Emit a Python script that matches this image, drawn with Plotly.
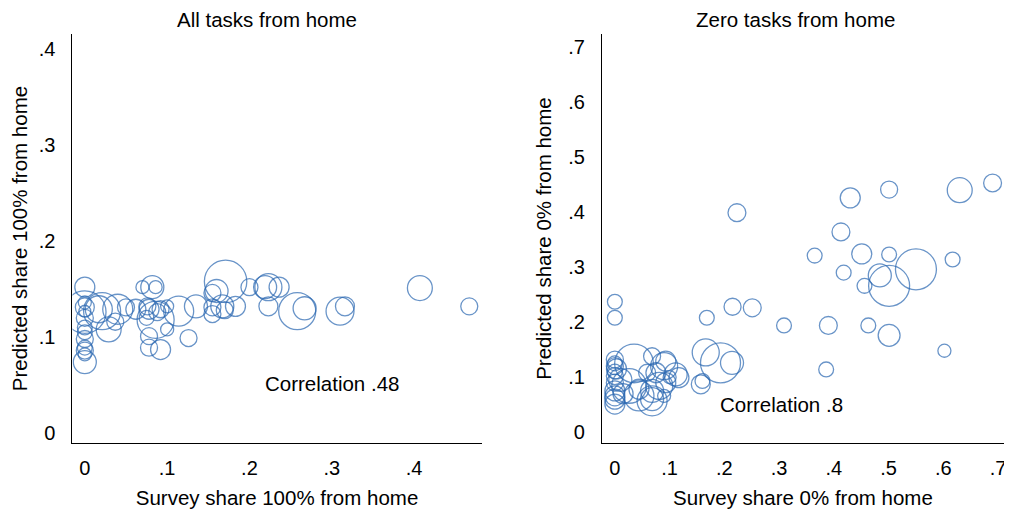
import plotly.graph_objects as go
from plotly.subplots import make_subplots

# All tasks from home: survey share 100% vs predicted share 100%, bubble weight
all_x = [0, 0, 0, 0, 0, 0, 0, 0, 0, 0, 0, 0,
         0.0, 0.021, 0.040, 0.029, 0.050, 0.062, 0.070, 0.082, 0.086, 0.086,
         0.078, 0.092, 0.100, 0.114, 0.100, 0.078, 0.078, 0.092, 0.126, 0.135,
         0.155, 0.160, 0.171, 0.155, 0.167, 0.183, 0.155, 0.170, 0.200, 0.223,
         0.219, 0.236, 0.223, 0.258, 0.267, 0.310, 0.316, 0.407, 0.467,
         0.017, 0.037, 0.075, 0.076, 0.088]
all_y = [0.152, 0.136, 0.131, 0.127, 0.120, 0.110, 0.105, 0.098, 0.089, 0.086, 0.082, 0.074,
         0.126, 0.127, 0.129, 0.108, 0.131, 0.129, 0.152, 0.152, 0.152, 0.118,
         0.129, 0.129, 0.132, 0.127, 0.108, 0.101, 0.089, 0.087, 0.099, 0.132,
         0.131, 0.148, 0.158, 0.146, 0.132, 0.132, 0.124, 0.128, 0.152, 0.152,
         0.152, 0.152, 0.132, 0.127, 0.130, 0.127, 0.132, 0.151, 0.132,
         0.129, 0.116, 0.120, 0.132, 0.126]
all_w = [4.0, 1.7, 3.6, 1.4, 2.9, 2.2, 2.2, 2.9, 2.2, 2.9, 1.7, 5.3,
         18.0, 13.7, 9.0, 6.2, 2.9, 4.0, 1.7, 5.3, 1.7, 13.7,
         4.0, 2.9, 1.7, 9.0, 1.7, 2.9, 2.9, 4.0, 2.9, 5.3,
         2.9, 5.3, 18.0, 2.9, 5.3, 4.0, 2.9, 2.9, 2.9, 7.3,
         5.3, 4.0, 3.6, 13.7, 5.3, 7.8, 3.6, 6.2, 2.9,
         7.3, 2.9, 2.2, 2.9, 2.9]

# Zero tasks from home: survey share 0% vs predicted share 0%
zero_x = [0.430, 0.501, 0.630, 0.690, 0.413, 0.365, 0.451, 0.501, 0.550, 0.617,
          0.418, 0.484, 0.501, 0.456, 0.309, 0.390, 0.463, 0.501, 0.602, 0.386,
          0.223, 0.0, 0.0, 0.168, 0.215, 0.251, 0.166, 0.193, 0.214, 0.157, 0.160,
          0, 0, 0.003, 0, 0, 0, 0, 0, 0, 0, 0,
          0.035, 0.026, 0.044, 0.068, 0.090, 0.081, 0.111, 0.068, 0.044, 0.059,
          0.075, 0.093, 0.117, 0.093, 0.068, 0.068, 0.090, 0.100, 0.010, 0.015]
zero_y = [0.426, 0.441, 0.440, 0.453, 0.364, 0.321, 0.324, 0.323, 0.296, 0.314,
          0.290, 0.285, 0.266, 0.266, 0.194, 0.194, 0.194, 0.176, 0.148, 0.114,
          0.399, 0.237, 0.208, 0.208, 0.228, 0.226, 0.145, 0.126, 0.126, 0.087, 0.093,
          0.132, 0.120, 0.115, 0.102, 0.090, 0.075, 0.060, 0.051, 0.066, 0.125, 0.110,
          0.125, 0.084, 0.066, 0.138, 0.120, 0.084, 0.105, 0.060, 0.078, 0.108,
          0.108, 0.129, 0.099, 0.090, 0.075, 0.057, 0.066, 0.100, 0.095, 0.070]
zero_w = [4.0, 2.9, 6.2, 3.2, 3.2, 2.2, 4.0, 2.2, 16.8, 2.2,
          2.2, 5.3, 16.8, 2.2, 2.2, 3.2, 2.2, 4.8, 1.7, 2.2,
          3.2, 2.2, 2.2, 2.2, 2.9, 3.2, 7.3, 16.0, 5.3, 3.6, 2.2,
          2.9, 2.9, 4.0, 2.9, 2.9, 4.0, 4.0, 4.0, 4.0, 2.2, 2.2,
          15.0, 12.0, 9.0, 2.9, 7.3, 7.3, 5.3, 5.3, 4.0, 2.9,
          4.0, 4.0, 4.0, 4.0, 5.3, 9.0, 1.7, 1.7, 5.3, 4.0]

left_ticks = [0, 0.1, 0.2, 0.3, 0.4]
left_ticktext = ['0', '.1', '.2', '.3', '.4']
right_ticks = [0, 0.1, 0.2, 0.3, 0.4, 0.5, 0.6, 0.7]
right_ticktext = ['0', '.1', '.2', '.3', '.4', '.5', '.6', '.7']

corr_all = '.48'
corr_zero = '.8'

BLUE = '#2a67b1'
FONT = 'Liberation Sans'
TXT = 20.5

fig = make_subplots(rows=1, cols=2)

for xs, ys, ws, col in [(all_x, all_y, all_w, 1), (zero_x, zero_y, zero_w, 2)]:
    fig.add_trace(go.Scatter(
        x=xs, y=ys, mode='markers',
        marker=dict(size=ws, sizemode='area', sizeref=0.02, symbol='circle-open',
                    color=BLUE, line=dict(width=1.3, color=BLUE)),
        showlegend=False, hoverinfo='skip'), row=1, col=col)

axis_common = dict(showgrid=False, zeroline=False, showline=True, linecolor='black',
                   linewidth=1, ticks='', tickfont=dict(size=20, color='black'),
                   title_font=dict(size=TXT, color='black'))

fig.update_xaxes(axis_common)
fig.update_yaxes(axis_common)

# page body has an 8px margin, so domains are shifted back by 8px
fig.update_xaxes(domain=[0.0629, 0.4684], range=[-0.015, 0.482],
                 tickvals=left_ticks, ticktext=left_ticktext, ticklabelstandoff=7,
                 title_text='Survey share 100% from home', title_standoff=12, row=1, col=1)
fig.update_yaxes(domain=[0.1468, 0.9491], range=[-0.0104, 0.4156],
                 tickvals=left_ticks, ticktext=left_ticktext, ticklabelstandoff=12,
                 title_text='Predicted share 100% from home', title_standoff=16, row=1, col=1)
fig.update_xaxes(domain=[0.5876, 0.9862], range=[-0.0237, 0.711],
                 tickvals=right_ticks, ticktext=right_ticktext, ticklabelstandoff=7,
                 title_text='Survey share 0% from home', title_standoff=12, row=1, col=2)
fig.update_yaxes(domain=[0.1468, 0.9491], range=[-0.02, 0.724],
                 tickvals=right_ticks, ticktext=right_ticktext, ticklabelstandoff=12,
                 title_text='Predicted share 0% from home', title_standoff=11, row=1, col=2)

fig.add_annotation(x=0.30, y=0.052, xref='x', yref='y', text='Correlation ' + corr_all,
                   showarrow=False, font=dict(size=TXT, color='black'))
fig.add_annotation(x=0.305, y=0.051, xref='x2', yref='y2', text='Correlation ' + corr_zero,
                   showarrow=False, font=dict(size=TXT, color='black'))

fig.add_annotation(x=0.256, y=0.9765, xref='paper', yref='paper', xanchor='center',
                   yanchor='middle', text='All tasks from home', showarrow=False,
                   font=dict(size=TXT, color='black'))
fig.add_annotation(x=0.7796, y=0.9765, xref='paper', yref='paper', xanchor='center',
                   yanchor='middle', text='Zero tasks from home', showarrow=False,
                   font=dict(size=TXT, color='black'))

fig.update_layout(width=1012, height=511, margin=dict(l=0, r=0, t=0, b=0),
                  plot_bgcolor='white', paper_bgcolor='white',
                  font=dict(family=FONT, color='black'))

fig.write_html('out.html')
